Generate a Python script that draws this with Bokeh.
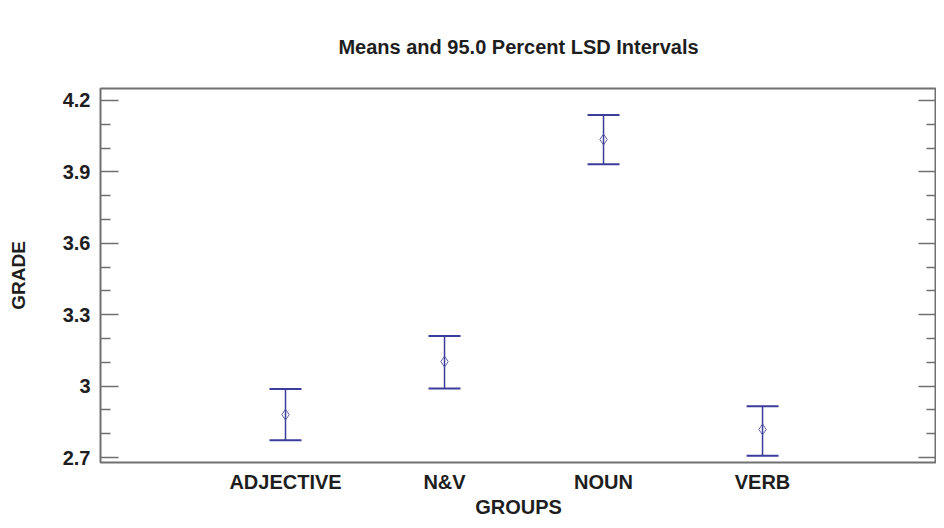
from bokeh.plotting import figure
from bokeh.models import (Range1d, FixedTicker, LinearAxis, Whisker, TeeHead,
                          ColumnDataSource, CustomJSTickFormatter)
from bokeh.embed import file_html
from bokeh.resources import INLINE

# ---- data ----
groups = ["ADJECTIVE", "N&V", "NOUN", "VERB"]
means = [2.880, 3.103, 4.036, 2.818]
lower = [2.772, 2.990, 3.932, 2.707]
upper = [2.988, 3.210, 4.139, 2.915]
y_ticks = [2.7, 3.0, 3.3, 3.6, 3.9, 4.2]
y_tick_labels = ["2.7", "3", "3.3", "3.6", "3.9", "4.2"]
y_minor_ticks = [2.8, 2.9, 3.1, 3.2, 3.4, 3.5, 3.7, 3.8, 4.0, 4.1]
title_text = "Means and 95.0 Percent LSD Intervals"

x_pos = list(range(1, len(groups) + 1))

FONT = "Liberation Sans"
BAR = "#3c3c9c"
TXT = "#1e1e1e"
GRAY = "#707070"

src = ColumnDataSource(dict(x=x_pos, mean=means, lower=lower, upper=upper))

p = figure(width=936, height=520, output_backend="svg", toolbar_location=None,
           x_range=Range1d(-0.1635, 5.094), y_range=Range1d(2.679, 4.2504),
           min_border_left=100, min_border_right=0, min_border_top=88,
           min_border_bottom=53, x_axis_location=None, y_axis_location=None)

p.title.text = title_text
p.title.align = "center"
p.title.text_font = FONT
p.title.text_font_size = "20px"
p.title.text_font_style = "bold"
p.title.text_color = TXT
p.title.standoff = 62

p.xgrid.visible = False
p.ygrid.visible = False
p.outline_line_color = GRAY
p.outline_line_width = 2
p.background_fill_color = "white"
p.border_fill_color = "white"

# left axis
yticker = FixedTicker(ticks=y_ticks, minor_ticks=y_minor_ticks)
left = LinearAxis(ticker=yticker, axis_label="GRADE")
left.major_label_overrides = dict(zip(y_ticks, y_tick_labels))
right = LinearAxis(ticker=yticker, formatter=CustomJSTickFormatter(code="return ''"))
for ax in (left, right):
    ax.axis_line_color = None
    ax.major_tick_in = 18
    ax.major_tick_out = 0
    ax.minor_tick_in = 10
    ax.minor_tick_out = 0
    ax.major_tick_line_color = GRAY
    ax.minor_tick_line_color = GRAY
    ax.major_tick_line_width = 1.5
    ax.minor_tick_line_width = 1.5
left.major_label_standoff = 10
left.major_label_text_font = FONT
left.major_label_text_font_size = "20px"
left.major_label_text_font_style = "bold"
left.major_label_text_color = TXT
left.axis_label_standoff = 31
left.axis_label_text_font = FONT
left.axis_label_text_font_size = "19px"
left.axis_label_text_font_style = "bold"
left.axis_label_text_color = TXT
right.major_label_standoff = 0
p.add_layout(left, "left")
p.add_layout(right, "right")

# bottom axis
bottom = LinearAxis(ticker=FixedTicker(ticks=x_pos, minor_ticks=[]), axis_label="GROUPS")
bottom.major_label_overrides = dict(zip(x_pos, groups))
bottom.axis_line_color = None
bottom.major_tick_line_color = None
bottom.minor_tick_line_color = None
bottom.major_tick_in = 0
bottom.major_tick_out = 0
bottom.minor_tick_in = 0
bottom.minor_tick_out = 0
bottom.major_label_standoff = 8
bottom.major_label_text_font = FONT
bottom.major_label_text_font_size = "20px"
bottom.major_label_text_font_style = "bold"
bottom.major_label_text_color = TXT
bottom.axis_label_standoff = 0
bottom.axis_label_text_font = FONT
bottom.axis_label_text_font_size = "20px"
bottom.axis_label_text_font_style = "bold"
bottom.axis_label_text_color = TXT
p.add_layout(bottom, "below")

# interval bars
w = Whisker(source=src, base="x", upper="upper", lower="lower", dimension="height",
            line_color=BAR, line_width=1.5,
            upper_head=TeeHead(size=32, line_color=BAR, line_width=2),
            lower_head=TeeHead(size=32, line_color=BAR, line_width=2))
p.add_layout(w)

p.scatter("x", "mean", source=src, marker="diamond", size=11,
          fill_color=None, line_color="#6060a8", line_width=1)

open("out.html", "w").write(file_html(p, INLINE))
